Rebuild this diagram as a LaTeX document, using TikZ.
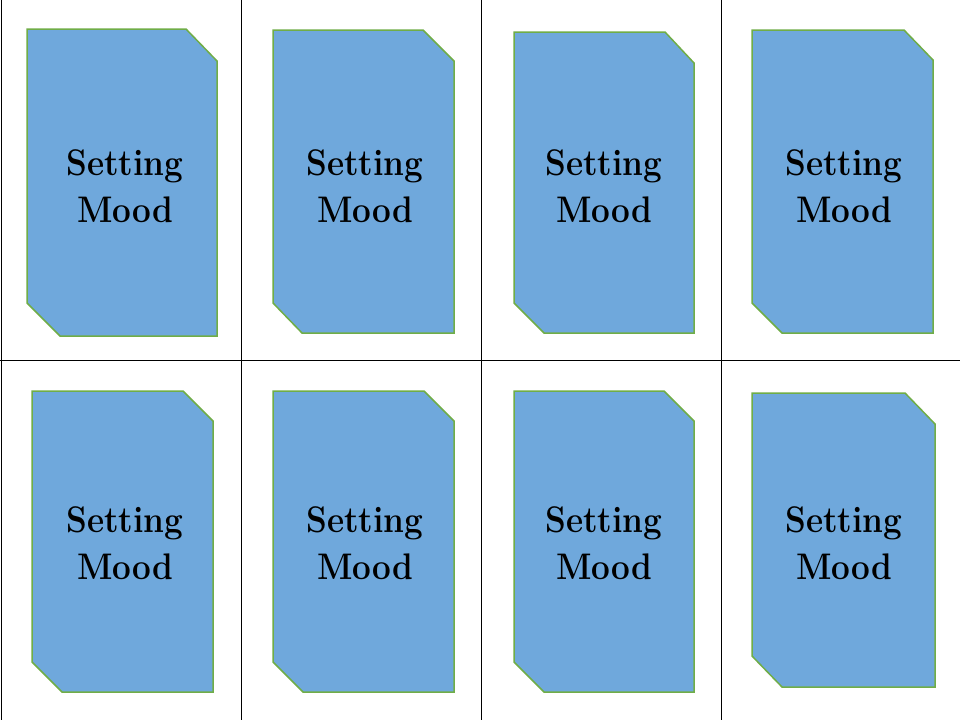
\documentclass[tikz,border=0pt]{standalone}
\begin{document}
\begin{tikzpicture}[x=1pt,y=-1pt,
  card/.style={fill=cardblue,draw=cardgreen,line width=1.5pt,line join=miter},
  lbl/.style={align=center,font=\fontsize{37}{47}\selectfont\bfseries,xscale=0.9,transform shape,inner sep=0pt},
  grid/.style={draw=black,line width=1pt}]
\definecolor{cardblue}{RGB}{111,168,220}
\definecolor{cardgreen}{RGB}{112,173,71}
\useasboundingbox (0,0) rectangle (960,720);
\fill[white] (0,0) rectangle (960,720);
% grid
\coordinate (gl1) at (1,0); \coordinate (gl2) at (1,720);
\coordinate (ga1) at (241,0); \coordinate (ga2) at (241,720);
\coordinate (gb1) at (481,0); \coordinate (gb2) at (481,720);
\coordinate (gc1) at (721,0); \coordinate (gc2) at (721,720);
\coordinate (gh1) at (0,360); \coordinate (gh2) at (960,360);
\draw[grid] (gl1) -- (gl2);
\draw[grid] (ga1) -- (ga2);
\draw[grid] (gb1) -- (gb2);
\draw[grid] (gc1) -- (gc2);
\draw[grid] (gh1) -- (gh2);
% cards
\draw[card] (27,29) -- (186,29) -- (217,61) -- (217,336) -- (60,336) -- (27,303) -- cycle;
\draw[card] (273,30) -- (423,30) -- (454,61) -- (454,333) -- (302,333) -- (273,303) -- cycle;
\draw[card] (514,32) -- (665,32) -- (694,63) -- (694,333) -- (544,333) -- (514,303) -- cycle;
\draw[card] (752,30) -- (904,30) -- (933,60) -- (933,333) -- (782,333) -- (752,303) -- cycle;
\draw[card] (32,391) -- (183,391) -- (213,421) -- (213,692) -- (62,692) -- (32,662) -- cycle;
\draw[card] (273,391) -- (424,391) -- (454,421) -- (454,692) -- (303,692) -- (273,662) -- cycle;
\draw[card] (514,391) -- (664,391) -- (694,421) -- (694,692) -- (544,692) -- (514,662) -- cycle;
\draw[card] (752,393) -- (905,393) -- (935,424) -- (935,687) -- (782,687) -- (752,656) -- cycle;
% labels
\node[lbl] (t1) at (125,186) {Setting\\Mood};
\node[lbl] (t2) at (365,186) {Setting\\Mood};
\node[lbl] (t3) at (604,186) {Setting\\Mood};
\node[lbl] (t4) at (844,186) {Setting\\Mood};
\node[lbl] (t5) at (125,543) {Setting\\Mood};
\node[lbl] (t6) at (365,543) {Setting\\Mood};
\node[lbl] (t7) at (604,543) {Setting\\Mood};
\node[lbl] (t8) at (844,543) {Setting\\Mood};
\end{tikzpicture}
\end{document}
